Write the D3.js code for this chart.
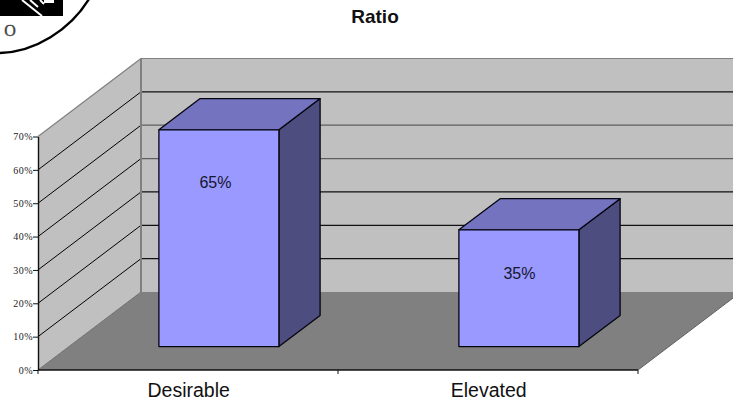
<!DOCTYPE html>
<html>
<head>
<meta charset="utf-8">
<script src="https://cdn.jsdelivr.net/npm/d3@7"></script>
<style>
html,body{margin:0;padding:0;background:#fff}
svg{display:block}
</style>
</head>
<body>
<svg id="chart" width="733" height="403"></svg>
<script>
const categories = ["Desirable", "Elevated"];
const ratios = [65, 35];
const tickValues = [0, 10, 20, 30, 40, 50, 60, 70];
const backGridColors = ["#111111", "#111111", "#111111", "#5f5f5f", "#5f5f5f", "#111111", "#808080"];

const svg = d3.select("#chart");
const sans = "'Liberation Sans', Arial, sans-serif";
const serif = "'Liberation Serif', 'Times New Roman', serif";

// Oblique projection: x runs along the front edge, y up the wall, z into the chart.
const x = d3.scaleBand().domain(categories).range([38, 638]);
const y = d3.scaleLinear().domain([0, 70]).range([370, 136.5]);
const depth = { dx: 103, dy: -78 };
const pt = (px, value, z) => [px + depth.dx * z, y(value) + depth.dy * z];
const poly = pts => pts.map(p => p.join(",")).join(" ");

const xStart = x.range()[0], xEnd = x.range()[1];

// Side wall, back wall and floor
svg.append("polygon")
  .attr("points", poly([pt(xStart, 0, 0), pt(xStart, 70, 0), pt(xStart, 70, 1), pt(xStart, 0, 1)]))
  .attr("fill", "#c0c0c0");
svg.append("polygon")
  .attr("points", poly([pt(xStart, 0, 1), pt(xStart, 70, 1), pt(xEnd, 70, 1), pt(xEnd, 0, 1)]))
  .attr("fill", "#c0c0c0");
svg.append("polygon")
  .attr("points", poly([pt(xStart, 0, 0), pt(xEnd, 0, 0), pt(xEnd, 0, 1), pt(xStart, 0, 1)]))
  .attr("fill", "#808080");

// Gridlines across both walls
tickValues.slice(1).forEach((t, i) => {
  const isTop = t === 70;
  const a = pt(xStart, t, 0), b = pt(xStart, t, 1), c = pt(xEnd, t, 1);
  svg.append("line")
    .attr("x1", a[0]).attr("y1", a[1]).attr("x2", b[0]).attr("y2", b[1])
    .attr("stroke", isTop ? "#808080" : "#000").attr("stroke-width", isTop ? 1.2 : 1);
  svg.append("line")
    .attr("x1", b[0]).attr("y1", b[1]).attr("x2", c[0]).attr("y2", c[1])
    .attr("stroke", backGridColors[i]).attr("stroke-width", 1.2);
});

// Inner corner of the walls and the floor's side edges
const corner = pt(xStart, 0, 1), cornerTop = pt(xStart, 70, 1);
svg.append("line")
  .attr("x1", corner[0]).attr("y1", corner[1]).attr("x2", cornerTop[0]).attr("y2", cornerTop[1])
  .attr("stroke", "#808080").attr("stroke-width", 2);
const floorBack = pt(xStart, 0, 1), floorFront = pt(xStart, 0, 0);
svg.append("line")
  .attr("x1", floorFront[0]).attr("y1", floorFront[1]).attr("x2", floorBack[0]).attr("y2", floorBack[1])
  .attr("stroke", "#707070");
const floorBackR = pt(xEnd, 0, 1), floorFrontR = pt(xEnd, 0, 0);
svg.append("line")
  .attr("x1", floorFrontR[0]).attr("y1", floorFrontR[1]).attr("x2", floorBackR[0]).attr("y2", floorBackR[1])
  .attr("stroke", "#606060");

// Bars: front, top and side faces
const barZ0 = 0.3, barZ1 = 0.7, barInset = 0.3;
const bars = svg.selectAll("g.bar").data(categories.map((c, i) => ({ c, v: ratios[i], i })))
  .join("g").attr("class", "bar");
const face = (fill, fn) => bars.append("polygon")
  .attr("points", d => poly(fn(d)))
  .attr("fill", fill).attr("stroke", "#05050f").attr("stroke-width", 1.3)
  .attr("stroke-linejoin", "round");
const bx0 = d => x(d.c) + x.bandwidth() * barInset;
const bx1 = d => x(d.c) + x.bandwidth() * (1 - barInset);
face("#4d4d80", d => [pt(bx1(d), 0, barZ0), pt(bx1(d), d.v, barZ0), pt(bx1(d), d.v, barZ1), pt(bx1(d), 0, barZ1)]);
face("#7373bf", d => [pt(bx0(d), d.v, barZ0), pt(bx1(d), d.v, barZ0), pt(bx1(d), d.v, barZ1), pt(bx0(d), d.v, barZ1)]);
face("#9999ff", d => [pt(bx0(d), 0, barZ0), pt(bx1(d), 0, barZ0), pt(bx1(d), d.v, barZ0), pt(bx0(d), d.v, barZ0)]);

// Value labels on the front faces, each nudged from the top of its bar
const labelNudge = [{ dx: -3.5, dy: 58 }, { dx: 0.5, dy: 49.5 }];
bars.append("text")
  .attr("x", d => (pt(bx0(d), d.v, barZ0)[0] + pt(bx1(d), d.v, barZ0)[0]) / 2 + labelNudge[d.i].dx)
  .attr("y", d => pt(0, d.v, barZ0)[1] + labelNudge[d.i].dy)
  .attr("text-anchor", "middle")
  .attr("font-family", sans).attr("font-size", 16).attr("fill", "#15152e")
  .text(d => d.v + "%");

// Value axis
const axisG = svg.append("g").attr("transform", `translate(${xStart},0)`)
  .call(d3.axisLeft(y).tickValues(tickValues).tickSize(5).tickSizeOuter(0).tickFormat(d => d + "%"));
axisG.select(".domain").attr("stroke", "#111").attr("stroke-width", 1.4);
axisG.selectAll(".tick line").attr("stroke", "#111");
axisG.selectAll(".tick text")
  .attr("x", -5).attr("font-family", serif).attr("font-size", 10).attr("fill", "#222").attr("letter-spacing", 0.5);

// Category axis
const catAxis = svg.append("g").attr("transform", `translate(0,${y(0)})`);
catAxis.append("line").attr("x1", xStart).attr("x2", xEnd).attr("stroke", "#111").attr("stroke-width", 1.5);
d3.range(categories.length + 1).forEach(i => {
  const tx = xStart + x.step() * i;
  catAxis.append("line").attr("x1", tx).attr("x2", tx).attr("y1", 0).attr("y2", 4).attr("stroke", "#111");
});
catAxis.selectAll("text").data(categories).join("text")
  .attr("x", d => x(d) + x.bandwidth() / 2 + 0.7)
  .attr("y", 27)
  .attr("text-anchor", "middle")
  .attr("font-family", sans).attr("font-size", 19.5).attr("fill", "#111")
  .text(d => d);

// Title
svg.append("text").attr("x", 375).attr("y", 23).attr("text-anchor", "middle")
  .attr("font-family", sans).attr("font-size", 19).attr("font-weight", "bold").attr("fill", "#111")
  .text("Ratio");

// Corner of the round seal above the chart
const seal = svg.append("g");
seal.append("rect").attr("x", 0).attr("y", -2).attr("width", 63).attr("height", 18).attr("fill", "#000");
seal.append("path").attr("d", "M22,0 L42,16").attr("stroke", "#fff").attr("stroke-width", 2).attr("fill", "none");
seal.append("path").attr("d", "M30,0 L38,7 M40,0 L44,4").attr("stroke", "#fff").attr("stroke-width", 2).attr("fill", "none");
seal.append("rect").attr("x", 44).attr("y", -2).attr("width", 10).attr("height", 5).attr("fill", "#fff");
seal.append("path").attr("d", "M0,53 C35,52 70,30 89,-1")
  .attr("fill", "none").attr("stroke", "#000").attr("stroke-width", 2.4);
seal.append("text").attr("x", 10).attr("y", 36).attr("text-anchor", "middle")
  .attr("font-family", serif).attr("font-size", 16).attr("fill", "#444").attr("stroke", "#444").attr("stroke-width", 0.4).text("O");
</script>
</body>
</html>
